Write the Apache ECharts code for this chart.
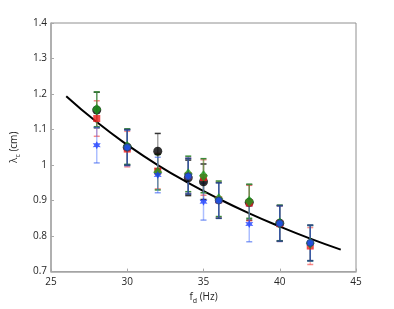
<!DOCTYPE html>
<html><head><meta charset="utf-8">
<script src="https://cdn.jsdelivr.net/npm/echarts@6/dist/echarts.min.js"></script>
<style>html,body{margin:0;padding:0;background:#fff}#c{width:394px;height:309px}</style>
</head><body><div id="c"></div>
<script>
// frequencies f_d (Hz)
const fdBlack = [28, 30, 32, 34, 35, 38, 40];
const lamBlack = [1.155, 1.05, 1.039, 0.964, 0.953, 0.895, 0.836];
const errBlack = [0.05, 0.05, 0.05, 0.05, 0.05, 0.05, 0.05];

const fdRed = [28, 30, 32, 34, 35, 36, 38, 40, 42];
const lamRed = [1.131, 1.045, 0.983, 0.970, 0.965, 0.902, 0.893, 0.835, 0.772];
const errRed = [0.05, 0.05, 0.05, 0.05, 0.05, 0.05, 0.05, 0.05, 0.052];

const fdGreen = [28, 30, 32, 34, 35, 36, 38, 40, 42];
const lamGreen = [1.157, 1.052, 0.980, 0.975, 0.970, 0.905, 0.898, 0.837, 0.780];
const errGreen = [0.049, 0.05, 0.05, 0.05, 0.048, 0.05, 0.048, 0.05, 0.05];

const fdStar = [28, 30, 32, 34, 35, 36, 38, 40, 42];
const lamStar = [1.056, 1.048, 0.972, 0.970, 0.897, 0.900, 0.834, 0.835, 0.780];
const errStar = [0.05, 0.05, 0.05, 0.05, 0.052, 0.05, 0.05, 0.05, 0.05];

const fdBlue = [30, 34, 36, 40, 42];
const lamBlue = [1.050, 0.968, 0.900, 0.836, 0.781];
const errBlue = [0.05, 0.05, 0.05, 0.05, 0.05];

// fitted curve
const fitX = [26, 28, 30, 32, 34, 36, 38, 40, 42, 44];
const fitY = [1.194, 1.121, 1.057, 1.000, 0.950, 0.905, 0.864, 0.827, 0.793, 0.762];

const xTicks = [25, 30, 35, 40, 45];
const yTicks = [0.7, 0.8, 0.9, 1, 1.1, 1.2, 1.3, 1.4];

const zip = (a, b) => a.map((v, i) => [v, b[i]]);
const zip3 = (a, b, c) => a.map((v, i) => [v, b[i], c[i]]);

function errSeries(xs, ys, es, color, capColor, z) {
  return {
    type: 'custom', z: z, silent: true,
    data: zip3(xs, ys, es),
    renderItem: function (params, api) {
      const x = api.value(0), y = api.value(1), e = api.value(2);
      const hi = api.coord([x, y + e]);
      const lo = api.coord([x, y - e]);
      const w = 3;
      return {
        type: 'group', children: [
          { type: 'line', shape: { x1: hi[0], y1: hi[1], x2: lo[0], y2: lo[1] }, style: { stroke: color, lineWidth: 1.5 } },
          { type: 'line', shape: { x1: hi[0] - w, y1: hi[1], x2: hi[0] + w, y2: hi[1] }, style: { stroke: capColor, lineWidth: 1.5 } },
          { type: 'line', shape: { x1: lo[0] - w, y1: lo[1], x2: lo[0] + w, y2: lo[1] }, style: { stroke: capColor, lineWidth: 1.5 } }
        ]
      };
    }
  };
}

const starPath = 'path://M0,-10 L2.6,-4.5 L8.66,-5 L5.2,0 L8.66,5 L2.6,4.5 L0,10 L-2.6,4.5 L-8.66,5 L-5.2,0 L-8.66,-5 L-2.6,-4.5 Z';

const chart = echarts.init(document.getElementById('c'), null, { renderer: 'canvas' });
const font = 'Open Sans, Liberation Sans, sans-serif';
const axisCommon = {
  axisLine: { show: true, lineStyle: { color: '#a8a8a8', width: 1.5 } },
  axisTick: { show: true, inside: true, length: 3, lineStyle: { color: '#a8a8a8' } },
  splitLine: { show: false }
};
chart.setOption({
  animation: false,
  backgroundColor: '#fff',
  grid: { left: 51, right: 38, top: 23, bottom: 34, show: true, borderColor: '#909090', borderWidth: 1 },
  xAxis: Object.assign({
    type: 'value', min: 25, max: 45, interval: 5,
    name: '{m|f}{s|d}{m| (Hz)}', nameLocation: 'middle', nameGap: 17,
    nameTextStyle: { rich: { m: { fontSize: 10, color: '#262626', fontFamily: font }, s: { fontSize: 7, color: '#262626', fontFamily: font, verticalAlign: 'bottom', padding: [6, 0, 0, 0] } } },
    axisLabel: { fontSize: 10, color: '#262626', fontFamily: font, margin: 6,
      formatter: v => xTicks.includes(v) ? String(v) : '' }
  }, axisCommon),
  yAxis: Object.assign({
    type: 'value', min: 0.7, max: 1.4, interval: 0.1,
    name: '{m|λ}{s|c}{m| (cm)}', nameLocation: 'middle', nameGap: 30, nameRotate: 90,
    nameTextStyle: { rich: { m: { fontSize: 10, color: '#262626', fontFamily: font }, s: { fontSize: 7, color: '#262626', fontFamily: font, padding: [6, 0, 0, 0] } } },
    axisLabel: { fontSize: 10, color: '#262626', fontFamily: font, margin: 4,
      formatter: v => { const r = Math.round(v * 10) / 10; return yTicks.includes(r) ? String(r) : ''; } }
  }, axisCommon),
  series: [
    { type: 'line', data: zip(fitX, fitY), smooth: true, showSymbol: false, symbol: 'none',
      lineStyle: { color: '#000', width: 2 }, z: 1 },
    errSeries(fdBlack, lamBlack, errBlack, 'rgba(90,90,90,0.55)', '#333', 2),
    errSeries(fdRed, lamRed, errRed, 'rgba(255,90,90,0.45)', 'rgba(240,60,60,0.6)', 2),
    errSeries(fdGreen, lamGreen, errGreen, 'rgba(40,150,40,0.55)', '#3a8a3a', 2),
    errSeries(fdStar, lamStar, errStar, 'rgba(70,110,255,0.45)', 'rgba(60,100,240,0.6)', 2),
    errSeries(fdBlue, lamBlue, errBlue, 'rgba(40,70,160,0.7)', '#2c4a7a', 2),
    { type: 'scatter', data: zip(fdBlack, lamBlack), symbol: 'circle', symbolSize: 9,
      itemStyle: { color: '#000' }, z: 3 },
    { type: 'scatter', data: zip(fdRed, lamRed), symbol: 'rect', symbolSize: 7,
      itemStyle: { color: '#ee1c1c' }, z: 4 },
    { type: 'scatter', data: zip(fdGreen, lamGreen), symbol: 'diamond', symbolSize: [9, 11],
      itemStyle: { color: '#1e9a1e' }, z: 5 },
    { type: 'scatter', data: zip(fdStar, lamStar), symbol: starPath, symbolSize: 8,
      itemStyle: { color: '#1a3cff' }, z: 6 },
    { type: 'scatter', data: zip(fdBlue, lamBlue), symbol: 'circle', symbolSize: 7,
      itemStyle: { color: '#2050e0', borderColor: '#2a4070', borderWidth: 1 }, z: 7 }
  ]
});
</script></body></html>
